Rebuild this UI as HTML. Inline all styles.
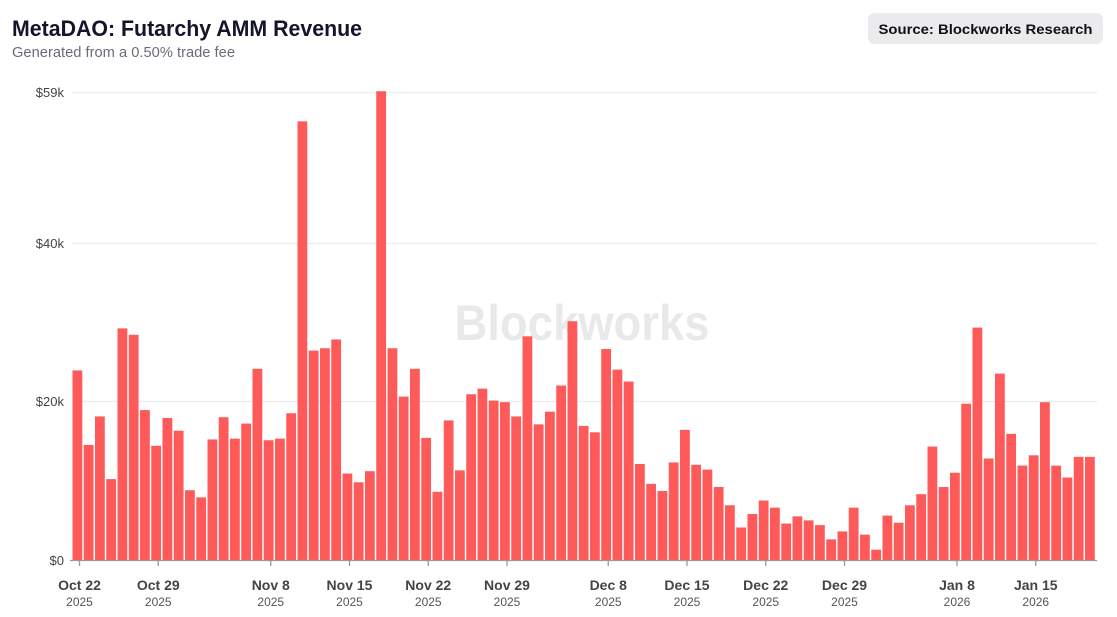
<!DOCTYPE html>
<html><head><meta charset="utf-8"><style>
html,body{margin:0;padding:0;background:#fff;width:1117px;height:617px;overflow:hidden}
svg{display:block;font-family:"Liberation Sans",sans-serif}
</style></head><body>
<svg id="c" width="1117" height="617" viewBox="0 0 1117 617" xmlns="http://www.w3.org/2000/svg">
<text x="12" y="36" font-size="22" font-weight="bold" fill="#14142b" textLength="350" lengthAdjust="spacingAndGlyphs">MetaDAO: Futarchy AMM Revenue</text>
<text x="12" y="57" font-size="14.5" fill="#6b6b78" textLength="223" lengthAdjust="spacingAndGlyphs">Generated from a 0.50% trade fee</text>
<rect x="868" y="13" width="235" height="31" rx="6" fill="#ebebee"/>
<text x="985.5" y="34" font-size="14" font-weight="bold" fill="#111" text-anchor="middle" textLength="214" lengthAdjust="spacingAndGlyphs">Source: Blockworks Research</text>
<text x="582" y="340" font-size="50" font-weight="bold" fill="#e9e9ec" text-anchor="middle" textLength="255" lengthAdjust="spacingAndGlyphs">Blockworks</text>
<g stroke="#ececef" stroke-width="1.2">
<line x1="72" x2="1097" y1="92.5" y2="92.5"/>
<line x1="72" x2="1097" y1="243.5" y2="243.5"/>
<line x1="72" x2="1097" y1="401.5" y2="401.5"/>
</g>
<g font-size="13" fill="#444" text-anchor="end">
<text x="64" y="97">$59k</text>
<text x="64" y="248">$40k</text>
<text x="64" y="406">$20k</text>
<text x="64" y="565">$0</text>
</g>
<g id="bars" fill="#ff5a5a"></g>
<line x1="70" x2="1097" y1="560.5" y2="560.5" stroke="#999" stroke-width="1.3"/>
<g id="ticks"></g>
</svg>
<script>
var v=[23.9,14.5,18.1,10.2,29.2,28.4,18.9,14.4,17.9,16.3,8.8,7.9,15.2,18.0,15.3,17.2,24.1,15.1,15.3,18.5,55.3,26.4,26.7,27.8,10.9,9.8,11.2,59.1,26.7,20.6,24.1,
15.4,8.6,17.6,11.3,20.9,21.6,20.1,19.9,18.1,28.2,17.1,18.7,22.0,30.1,16.9,16.1,26.6,24.0,22.5,12.1,9.6,8.7,12.3,16.4,12.0,11.4,9.2,6.9,4.1,5.8,
7.5,6.6,4.6,5.5,5.0,4.4,2.6,3.6,6.6,3.2,1.3,5.6,4.7,6.9,8.3,14.3,9.2,11.0,19.7,29.3,12.8,23.5,15.9,11.9,13.2,19.9,11.9,10.4,13.0,13.0];
var ns="http://www.w3.org/2000/svg",g=document.getElementById("bars"),P=11.25,X0=72.5;
v.forEach(function(k,i){var h=k*7.932;var r=document.createElementNS(ns,"rect");
r.setAttribute("x",(X0+i*P).toFixed(2));r.setAttribute("width","9.8");r.setAttribute("y",(560-h).toFixed(2));r.setAttribute("height",h.toFixed(2));g.appendChild(r);});
var t=[["Oct 22",0,"2025"],["Oct 29",7,"2025"],["Nov 8",17,"2025"],["Nov 15",24,"2025"],["Nov 22",31,"2025"],["Nov 29",38,"2025"],["Dec 8",47,"2025"],["Dec 15",54,"2025"],["Dec 22",61,"2025"],["Dec 29",68,"2025"],["Jan 8",78,"2026"],["Jan 15",85,"2026"]];
var tg=document.getElementById("ticks"),s="";
t.forEach(function(a){var x=X0+a[1]*P+7;
s+='<line x1="'+x+'" x2="'+x+'" y1="561" y2="566" stroke="#999" stroke-width="1.3"/>';
s+='<text x="'+x+'" y="590" font-size="14" font-weight="bold" fill="#444" text-anchor="middle">'+a[0]+'</text>';
s+='<text x="'+x+'" y="606" font-size="12" fill="#555" text-anchor="middle">'+a[2]+'</text>';});
tg.innerHTML=s;
</script>
</body></html>
